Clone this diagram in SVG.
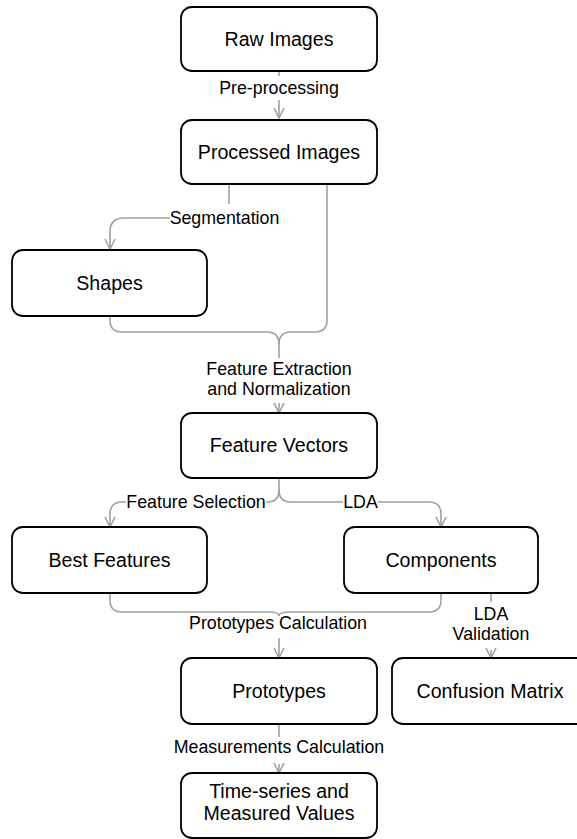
<svg xmlns="http://www.w3.org/2000/svg" width="577" height="839" viewBox="0 0 577 839">
<style>
.node rect{fill:#fff;stroke:#000;stroke-width:1.8}
.node text{font-family:"Liberation Sans",Arial,sans-serif;font-size:19.6px;fill:#000;text-anchor:middle}
.edge{fill:none;stroke:#a0a0a0;stroke-width:1.6}
.lbl{font-family:"Liberation Sans",Arial,sans-serif;font-size:17.8px;fill:#000;text-anchor:middle}
</style>
<defs>
<marker id="arr" viewBox="0 0 12 12" refX="11" refY="6" markerWidth="12" markerHeight="12" orient="auto" markerUnits="userSpaceOnUse">
<path d="M1,1 L11,6 L1,11" fill="none" stroke="#a0a0a0" stroke-width="1.6"/>
</marker>
</defs>
<rect width="577" height="839" fill="#fff"/>
<g id="connectors">
<path class="edge" d="M279,71 V76"/>
<path class="edge" d="M279,100 V118" marker-end="url(#arr)"/>
<text class="lbl" x="279" y="94">Pre-processing</text>

<path class="edge" d="M229,184 V204"/>
<path class="edge" d="M170,218 H124 Q110,218 110,232 V249" marker-end="url(#arr)"/>
<text class="lbl" x="224.5" y="224">Segmentation</text>

<path class="edge" d="M110,316 V320 Q110,332 122,332 H267 Q279,332 279,344 V358"/>
<path class="edge" d="M327,184 V320 Q327,332 315,332 H291 Q279,332 279,344"/>
<text class="lbl" x="279" y="375">Feature Extraction</text>
<text class="lbl" x="279" y="395">and Normalization</text>
<path class="edge" d="M279,403 V413" marker-end="url(#arr)"/>

<path class="edge" d="M279,478 V490 Q279,502 267,502 H266"/>
<path class="edge" d="M126,502 H122 Q110,502 110,514 V527" marker-end="url(#arr)"/>
<text class="lbl" x="196" y="508">Feature Selection</text>
<path class="edge" d="M279,490 Q279,502 291,502 H343"/>
<path class="edge" d="M378,502 H429 Q441,502 441,514 V527" marker-end="url(#arr)"/>
<text class="lbl" x="360.5" y="508">LDA</text>

<path class="edge" d="M110,593 V600 Q110,612 122,612 H269 Q279,612 279,616"/>
<path class="edge" d="M441,593 V600 Q441,612 429,612 H289 Q279,612 279,616"/>
<text class="lbl" x="278" y="629">Prototypes Calculation</text>
<path class="edge" d="M279,638 V658" marker-end="url(#arr)"/>

<path class="edge" d="M491,593 V602"/>
<text class="lbl" x="491" y="620">LDA</text>
<text class="lbl" x="491" y="640">Validation</text>
<path class="edge" d="M491,650 V658" marker-end="url(#arr)"/>

<path class="edge" d="M279,724 V737"/>
<text class="lbl" x="279" y="753">Measurements Calculation</text>
<path class="edge" d="M279,764 V773" marker-end="url(#arr)"/>
</g>
<g id="raw-images" class="node"><rect x="181" y="7" width="196" height="64" rx="11"/><text x="279" y="46">Raw Images</text></g>
<g id="processed-images" class="node"><rect x="181" y="120" width="196" height="64" rx="11"/><text x="279" y="159">Processed Images</text></g>
<g id="shapes" class="node"><rect x="12" y="250" width="195" height="66" rx="11"/><text x="109.5" y="290">Shapes</text></g>
<g id="feature-vectors" class="node"><rect x="181" y="413" width="196" height="65" rx="11"/><text x="279" y="452">Feature Vectors</text></g>
<g id="best-features" class="node"><rect x="12" y="527" width="195" height="66" rx="11"/><text x="109.5" y="567">Best Features</text></g>
<g id="components" class="node"><rect x="344" y="527" width="194" height="66" rx="11"/><text x="441" y="567">Components</text></g>
<g id="prototypes" class="node"><rect x="181" y="658" width="196" height="66" rx="11"/><text x="279" y="698">Prototypes</text></g>
<g id="confusion-matrix" class="node"><rect x="392" y="658" width="196" height="66" rx="11"/><text x="490" y="698">Confusion Matrix</text></g>
<g id="time-series" class="node"><rect x="181" y="773" width="196" height="65" rx="11"/><text x="279" y="798">Time-series and</text><text x="279" y="820">Measured Values</text></g>
</svg>
